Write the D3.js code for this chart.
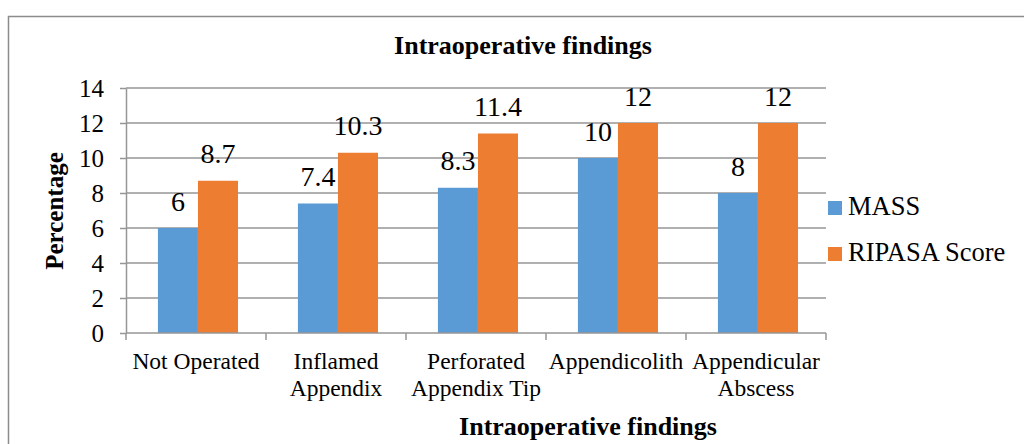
<!DOCTYPE html>
<html>
<head>
<meta charset="utf-8">
<script src="https://cdn.jsdelivr.net/npm/d3@7"></script>
<style>
  body { margin: 0; background: #fff; }
  svg text { font-family: "Liberation Serif", "Times New Roman", serif; fill: #000; }
</style>
</head>
<body>
<div id="chart"></div>
<script>
// chart data
var categories = [["Not Operated"], ["Inflamed", "Appendix"], ["Perforated", "Appendix Tip"], ["Appendicolith"], ["Appendicular", "Abscess"]];
var seriesNames = ["MASS", "RIPASA Score"];
var massValues = [6, 7.4, 8.3, 10, 8];
var ripasaValues = [8.7, 10.3, 11.4, 12, 12];
var yTicks = [0, 2, 4, 6, 8, 10, 12, 14];
var colors = ["#5B9BD5", "#ED7D31"];

var svgWidth = 1024, svgHeight = 444;
var margin = { top: 88, right: 198, bottom: 111, left: 126 };
var chartWidth = svgWidth - margin.left - margin.right;
var chartHeight = svgHeight - margin.top - margin.bottom;
var gridColor = "#969696";

var svg = d3.select("#chart").append("svg")
    .attr("width", svgWidth)
    .attr("height", svgHeight)
    .attr("font-family", "Liberation Serif");

// outer frame
svg.append("rect")
    .attr("x", 8.5).attr("y", 16.5)
    .attr("width", 1030).attr("height", 440)
    .attr("fill", "none")
    .attr("stroke", "#8c8c8c")
    .attr("stroke-width", 1.5);

var chartGroup = svg.append("g")
    .attr("transform", `translate(${margin.left}, ${margin.top})`);

var xScale = d3.scaleBand()
    .domain(d3.range(categories.length))
    .range([0, chartWidth]);

var xInner = d3.scaleBand()
    .domain([0, 1])
    .range([xScale.bandwidth() * 0.228, xScale.bandwidth() * 0.8]);

var yScale = d3.scaleLinear()
    .domain([0, 14])
    .range([chartHeight, 0]);

// gridlines
chartGroup.selectAll("line.grid")
    .data(yTicks.filter(d => d > 0))
    .enter().append("line")
    .attr("class", "grid")
    .attr("x1", 0).attr("x2", chartWidth)
    .attr("y1", d => yScale(d)).attr("y2", d => yScale(d))
    .attr("stroke", gridColor)
    .attr("stroke-width", 1.5);

// bars
var data = categories.map((c, i) => [massValues[i], ripasaValues[i]]);
var groups = chartGroup.selectAll("g.cat")
    .data(data)
    .enter().append("g")
    .attr("transform", (d, i) => `translate(${xScale(i)}, 0)`);

groups.selectAll("rect")
    .data(d => d)
    .enter().append("rect")
    .attr("x", (d, j) => xInner(j))
    .attr("y", d => yScale(d))
    .attr("width", xInner.bandwidth())
    .attr("height", d => chartHeight - yScale(d))
    .attr("fill", (d, j) => colors[j]);

groups.selectAll("text.val")
    .data(d => d)
    .enter().append("text")
    .attr("class", "val")
    .attr("x", (d, j) => xInner(j) + xInner.bandwidth() / 2)
    .attr("y", d => yScale(d) - 17.5)
    .attr("text-anchor", "middle")
    .attr("font-size", "28px")
    .text(d => d);

// y axis
var yAxis = chartGroup.append("g")
    .call(d3.axisLeft(yScale).tickValues(yTicks).tickSize(6).tickSizeOuter(0))
    .attr("font-family", null)
    .attr("font-size", null);
yAxis.selectAll("text").attr("font-size", "25px").attr("dy", "0.33em").attr("x", -22);
yAxis.selectAll("line").attr("stroke", gridColor).attr("stroke-width", 1.5);
yAxis.select(".domain").attr("stroke", gridColor).attr("stroke-width", 1.5);

// x axis
var xAxisG = chartGroup.append("g")
    .attr("transform", `translate(0, ${chartHeight})`);
xAxisG.append("line")
    .attr("x1", 0).attr("x2", chartWidth)
    .attr("stroke", gridColor).attr("stroke-width", 1.5);
xAxisG.selectAll("line.tick")
    .data(d3.range(categories.length + 1))
    .enter().append("line")
    .attr("class", "tick")
    .attr("x1", i => i * xScale.step()).attr("x2", i => i * xScale.step())
    .attr("y1", 0).attr("y2", 7)
    .attr("stroke", gridColor).attr("stroke-width", 1.5);

var catLabels = xAxisG.selectAll("text.cat")
    .data(categories)
    .enter().append("text")
    .attr("class", "cat")
    .attr("x", (d, i) => xScale(i) + xScale.bandwidth() / 2)
    .attr("y", 36)
    .attr("text-anchor", "middle")
    .attr("font-size", "23.5px");
catLabels.selectAll("tspan")
    .data(d => d)
    .enter().append("tspan")
    .attr("x", function() { return d3.select(this.parentNode).attr("x"); })
    .attr("dy", (d, k) => k === 0 ? 0 : 27)
    .text(d => d);

// titles
svg.append("text")
    .attr("x", 523).attr("y", 54)
    .attr("text-anchor", "middle")
    .attr("font-size", "26px")
    .attr("font-weight", "bold")
    .text("Intraoperative findings");

svg.append("text")
    .attr("x", 588).attr("y", 435)
    .attr("text-anchor", "middle")
    .attr("font-size", "26px")
    .attr("font-weight", "bold")
    .text("Intraoperative findings");

svg.append("text")
    .attr("transform", `translate(63, 211) rotate(-90)`)
    .attr("text-anchor", "middle")
    .attr("font-size", "25px")
    .attr("font-weight", "bold")
    .text("Percentage");

// legend
var legend = svg.append("g").attr("transform", "translate(828, 201)");
seriesNames.forEach(function(name, i) {
    legend.append("rect")
        .attr("x", 0).attr("y", i * 46)
        .attr("width", 14).attr("height", 14)
        .attr("fill", colors[i]);
    legend.append("text")
        .attr("x", 20).attr("y", i * 46 + 14)
        .attr("font-size", "26.5px")
        .text(name);
});
</script>
</body>
</html>
